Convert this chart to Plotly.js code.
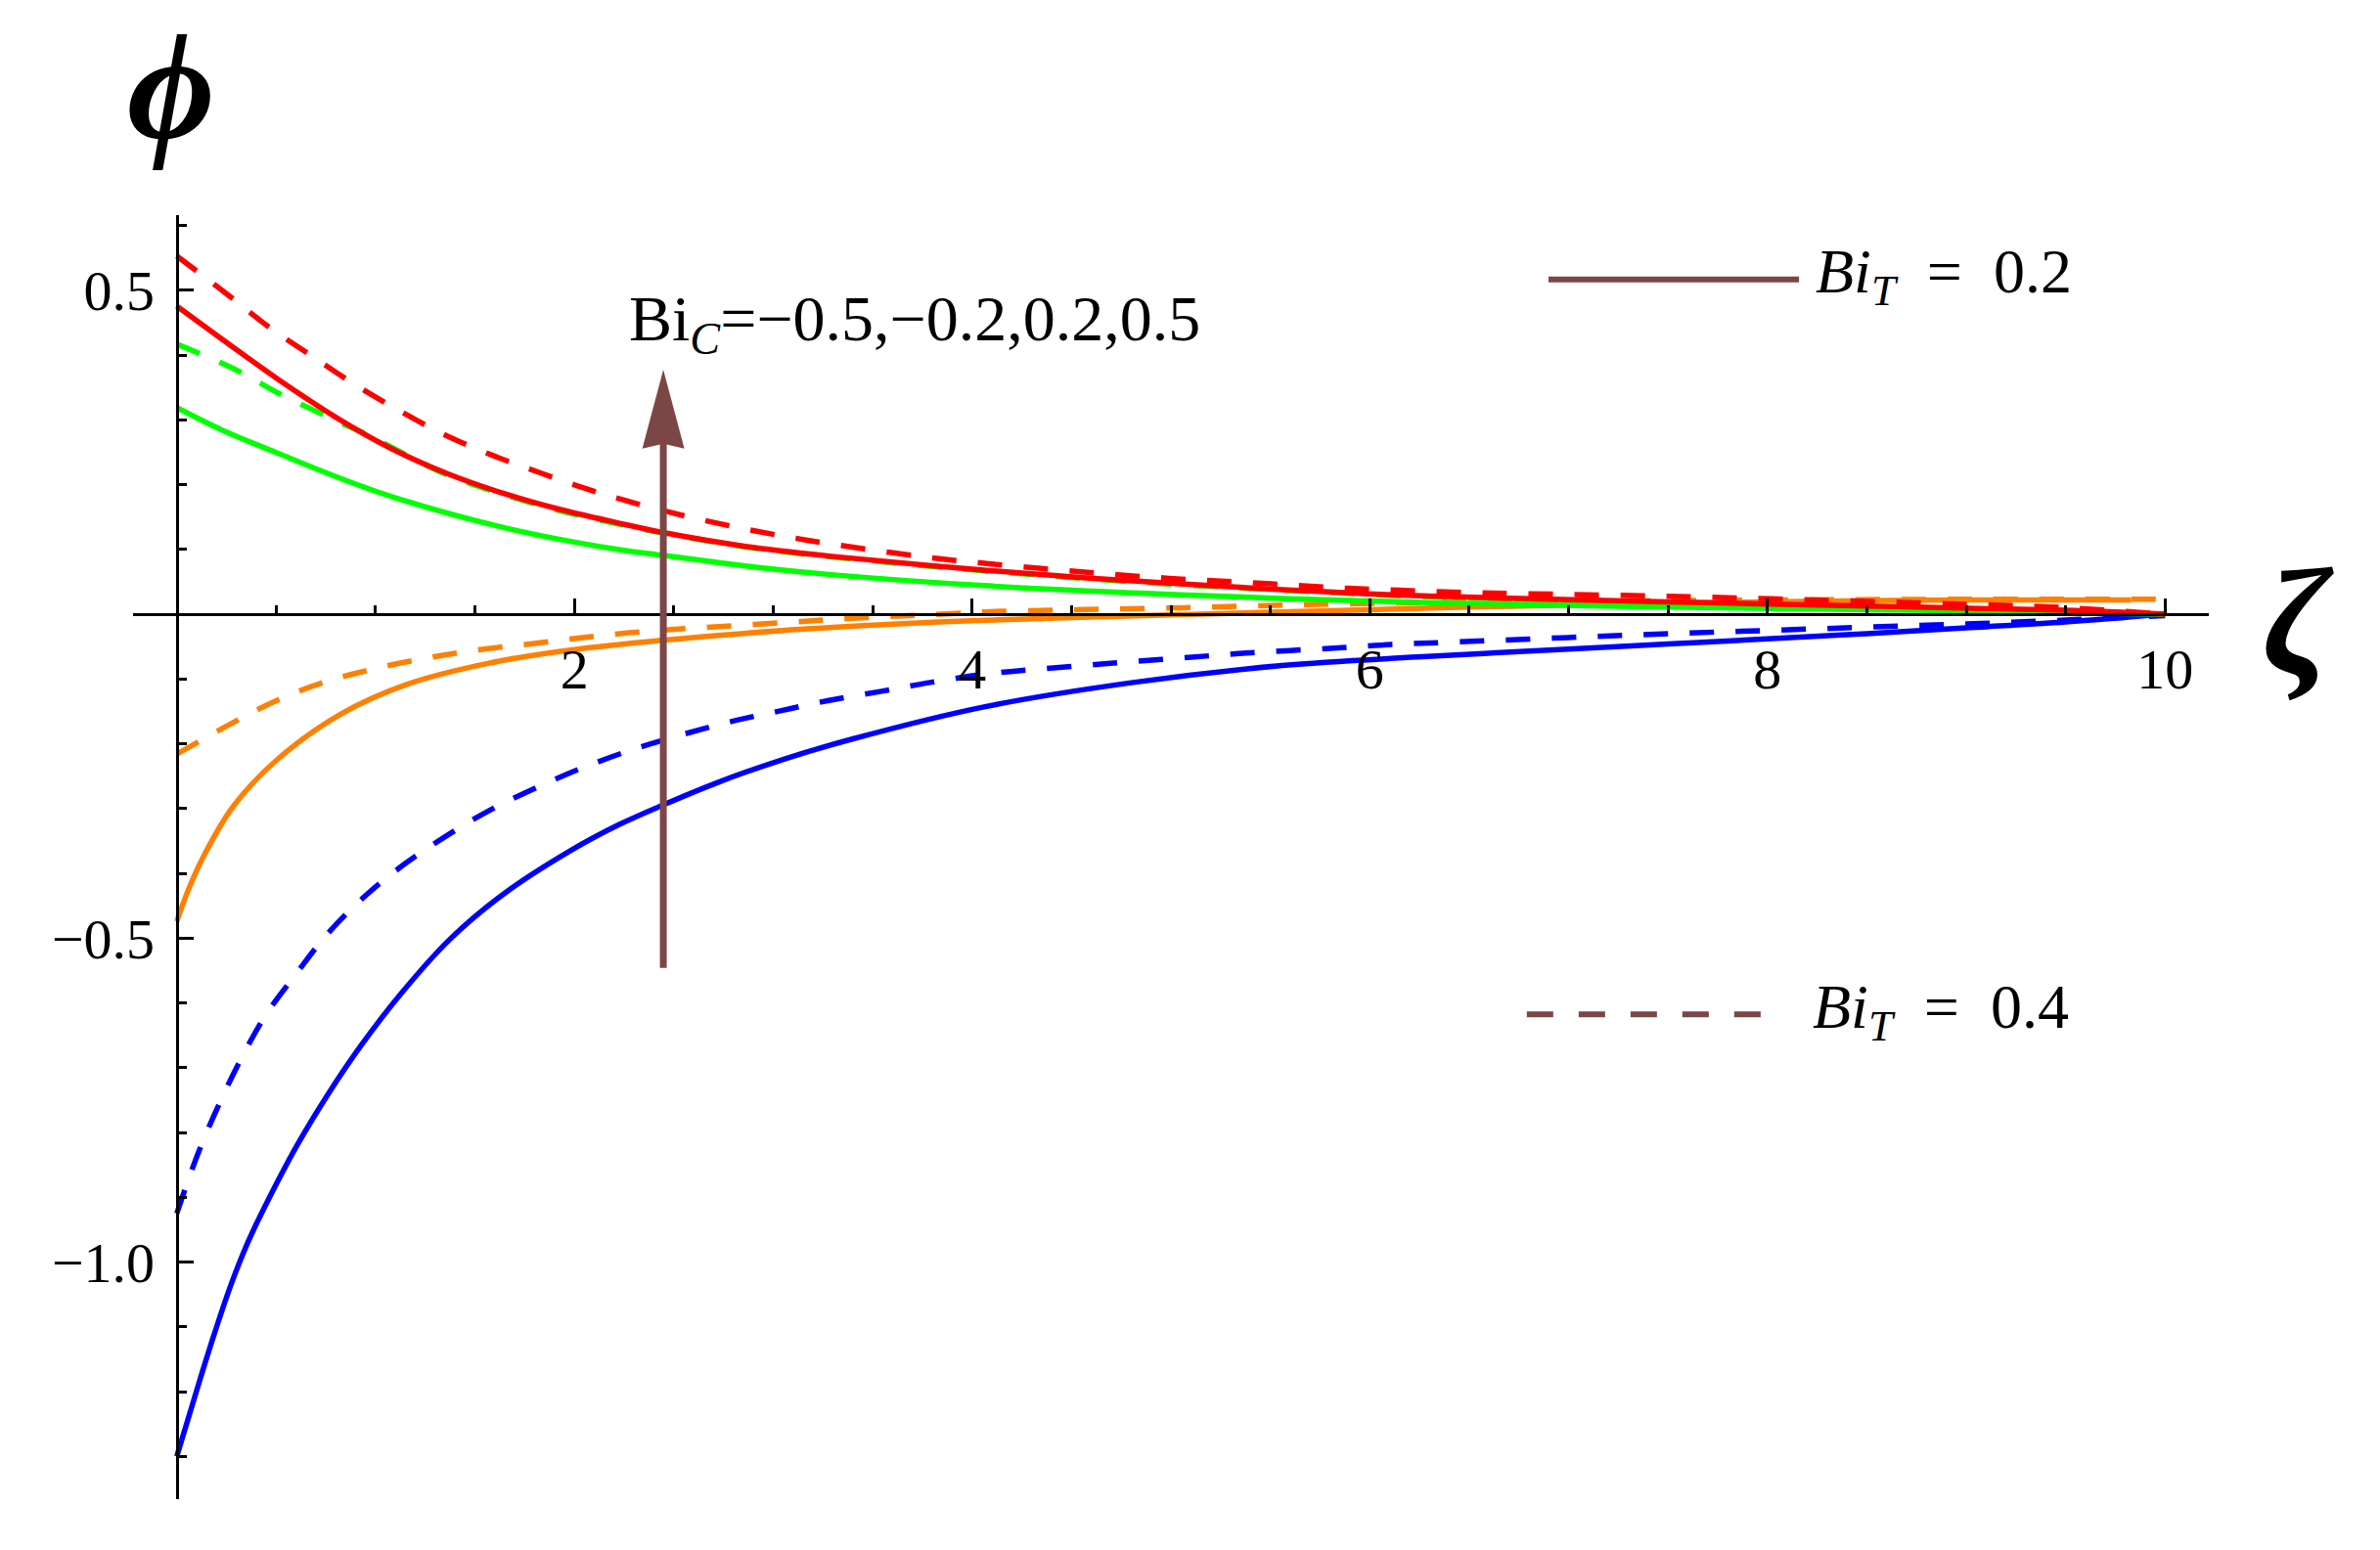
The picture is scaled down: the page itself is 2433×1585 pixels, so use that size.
<!DOCTYPE html>
<html>
<head>
<meta charset="utf-8">
<script src="https://cdn.plot.ly/plotly-3.0.1.min.js"></script>
<style>
  html, body { margin: 0; padding: 0; background: #fff; }
  #chart { width: 2433px; height: 1585px; }
</style>
</head>
<body>
<div id="chart"></div>
<script>
// phi(zeta) profiles for Bi_C = -0.5, -0.2, 0.2, 0.5 (solid: Bi_T = 0.2, dashed: Bi_T = 0.4)

const blueSolidX = [0, 0.111, 0.193, 0.275, 0.357, 0.439, 0.603, 0.767, 0.931, 1.127, 1.373, 1.652, 1.98, 2.226, 2.447, 2.718, 3.046, 3.406, 4.06, 4.81, 5.56, 6.24, 7, 7.5, 8, 8.5, 9, 9.5, 10];
const blueSolidY = [-1.30, -1.187, -1.107, -1.033, -0.970, -0.917, -0.821, -0.738, -0.664, -0.586, -0.502, -0.430, -0.365, -0.3245, -0.2943, -0.2600, -0.2245, -0.192, -0.1431, -0.1054, -0.0792, -0.066, -0.054, -0.046, -0.038, -0.030, -0.021, -0.012, 0];

const blueDashX = [0, 0.106, 0.209, 0.324, 0.447, 0.603, 0.759, 0.947, 1.144, 1.357, 1.578, 1.816, 2.046, 2.292, 2.538, 2.783, 3.03, 3.28, 3.545, 3.796, 4.06, 4.31, 4.57, 4.82, 5.09, 5.34, 5.6, 5.86, 6.11, 6.38, 7, 7.5, 8, 8.5, 9, 9.5, 10];
const blueDashY = [-0.925, -0.833, -0.759, -0.686, -0.619, -0.554, -0.493, -0.435, -0.386, -0.342, -0.302, -0.2667, -0.2365, -0.2089, -0.1862, -0.166, -0.1495, -0.133, -0.119, -0.105, -0.0928, -0.0853, -0.0788, -0.0727, -0.0667, -0.0607, -0.056, -0.0516, -0.0465, -0.0435, -0.036, -0.030, -0.025, -0.020, -0.015, -0.009, -0.002];

const orangeSolidX = [0, 0.06, 0.135, 0.286, 0.512, 0.832, 1.16, 1.57, 1.98, 2.44, 3.046, 3.5, 4, 4.5, 5, 5.5, 6, 6.5, 7, 7.5, 8, 8.5, 9, 9.5, 9.83];
const orangeSolidY = [-0.474, -0.424, -0.3735, -0.2957, -0.2226, -0.153, -0.108, -0.0755, -0.0554, -0.0403, -0.0252, -0.017, -0.010, -0.005, -0.001, 0.003, 0.007, 0.011, 0.014, 0.017, 0.019, 0.021, 0.022, 0.022, 0.022];

const orangeDashX = [0, 0.267, 0.503, 0.75, 0.996, 1.25, 1.505, 1.767, 2.02, 2.275, 2.54, 2.80, 3.07, 3.3, 3.55, 3.8, 4.1, 4.5, 5.06, 5.64, 6.19, 6.5, 7, 7.5, 8, 9, 10];
const orangeDashY = [-0.216, -0.170, -0.133, -0.104, -0.084, -0.068, -0.0554, -0.0463, -0.0368, -0.0287, -0.0227, -0.0176, -0.0126, -0.008, -0.004, -0.0005, 0.004, 0.0068, 0.010, 0.0146, 0.0176, 0.019, 0.020, 0.021, 0.022, 0.023, 0.023];

const greenSolidX = [0, 0.23, 0.512, 0.795, 1.077, 1.642, 2.207, 2.452, 2.9, 3.306, 4.06, 4.81, 5.56, 6.3, 7.5, 8.75, 10];
const greenSolidY = [0.319, 0.284, 0.248, 0.213, 0.182, 0.134, 0.1005, 0.0906, 0.073, 0.0607, 0.0441, 0.033, 0.0244, 0.018, 0.011, 0.006, 0];

const greenDashX = [0, 0.286, 0.512, 0.757, 0.964, 1.36, 1.642, 1.924, 2.207, 2.452, 2.9, 3.306, 4.06, 4.81, 5.56, 6.3, 7.5, 8.75, 10];
const greenDashY = [0.417, 0.379, 0.341, 0.305, 0.276, 0.215, 0.185, 0.160, 0.140, 0.125, 0.102, 0.088, 0.067, 0.050, 0.037, 0.027, 0.018, 0.010, 0];

const redSolidX = [0, 0.23, 0.512, 0.795, 1.077, 1.36, 1.642, 1.924, 2.207, 2.452, 2.9, 3.306, 4.06, 4.81, 5.56, 6.3, 7.5, 8.75, 9.5, 10];
const redSolidY = [0.4755, 0.424, 0.362, 0.305, 0.256, 0.217, 0.1866, 0.162, 0.1418, 0.1257, 0.103, 0.089, 0.068, 0.0513, 0.038, 0.028, 0.019, 0.011, 0.006, 0];

const redDashX = [0, 0.257, 0.465, 0.672, 0.888, 1.115, 1.34, 1.582, 1.821, 2.065, 2.31, 2.565, 2.819, 3.07, 3.32, 3.584, 3.834, 4.084, 4.348, 4.61, 4.86, 5.125, 5.376, 5.64, 5.89, 6.15, 6.42, 7.5, 8.75, 9.5, 10];
const redDashY = [0.553, 0.493, 0.443, 0.400, 0.356, 0.315, 0.278, 0.246, 0.219, 0.193, 0.171, 0.151, 0.134, 0.1195, 0.107, 0.0955, 0.0857, 0.078, 0.0706, 0.064, 0.058, 0.053, 0.049, 0.0445, 0.040, 0.037, 0.034, 0.0276, 0.0176, 0.010, 0];

const xTickVals = [2, 4, 6, 8, 10];
const xTickText = ["2", "4", "6", "8", "10"];
const xMinorVals = [0.5, 1, 1.5, 2.5, 3, 3.5, 4.5, 5, 5.5, 6.5, 7, 7.5, 8.5, 9, 9.5];
const yTickVals = [-1.0, -0.5, 0.5];
const yTickText = ["\u22121.0", "\u22120.5", "0.5"];
const yMinorVals = [-1.3, -1.2, -1.1, -0.9, -0.8, -0.7, -0.6, -0.4, -0.3, -0.2, -0.1, 0.1, 0.2, 0.3, 0.4, 0.6];

const bicLabel = "Bi<sub><i>C</i></sub>=\u22120.5,\u22120.2,0.2,0.5";
const legendLabels = ["<i>Bi</i><sub><i>T</i></sub>\u2002=\u20020.2", "<i>Bi</i><sub><i>T</i></sub>\u2002=\u20020.4"];

const SERIF = "Liberation Serif, Times New Roman, DejaVu Serif, serif";
const ARROW = "#7d4646";
const LW = 5.5;
const DASH = "25px,22px";

function curve(x, y, color, dashed) {
  return {
    x: x, y: y,
    mode: "lines",
    line: { color: color, width: LW, dash: dashed ? DASH : "solid", shape: "spline", smoothing: 1 },
    hoverinfo: "skip",
  };
}

const traces = [
  curve(blueSolidX, blueSolidY, "#0000ff", false),
  curve(blueDashX, blueDashY, "#0000ff", true),
  curve(orangeSolidX, orangeSolidY, "#ff8000", false),
  curve(orangeDashX, orangeDashY, "#ff8000", true),
  curve(greenDashX, greenDashY, "#00ff00", true),
  curve(greenSolidX, greenSolidY, "#00ff00", false),
  curve(redSolidX, redSolidY, "#ff0000", false),
  curve(redDashX, redDashY, "#ff0000", true),
];

const xRange = [-0.22, 10.22];
const yRange = [-1.366, 0.616];

const axisCommon = {
  showline: true,
  linewidth: 3,
  linecolor: "black",
  ticks: "inside",
  ticklen: 15,
  tickwidth: 3,
  tickcolor: "black",
  showgrid: false,
  zeroline: false,
  anchor: "free",
  tickfont: { family: SERIF, size: 58, color: "black" },
  fixedrange: true,
};

const layout = {
  width: 2433,
  height: 1585,
  margin: { l: 136, r: 175, t: 220, b: 52 },
  paper_bgcolor: "white",
  plot_bgcolor: "white",
  showlegend: false,
  font: { family: SERIF, size: 56, color: "black" },
  xaxis: Object.assign({}, axisCommon, {
    range: xRange,
    position: (0 - yRange[0]) / (yRange[1] - yRange[0]),
    tickmode: "array",
    tickvals: xTickVals,
    ticktext: xTickText,
    ticklabelstandoff: 4,
    minor: { tickmode: "array", tickvals: xMinorVals, ticks: "inside", ticklen: 8, tickwidth: 3, tickcolor: "black", showgrid: false },
  }),
  yaxis: Object.assign({}, axisCommon, {
    range: yRange,
    position: (0 - xRange[0]) / (xRange[1] - xRange[0]),
    tickmode: "array",
    tickvals: yTickVals,
    ticktext: yTickText,
    ticklabelstandoff: 10,
    minor: { tickmode: "array", tickvals: yMinorVals, ticks: "inside", ticklen: 8, tickwidth: 3, tickcolor: "black", showgrid: false },
  }),
  shapes: [
    // arrow shaft + head
    { type: "line", xref: "x", yref: "y", x0: 2.447, x1: 2.447, y0: -0.546, y1: 0.265,
      line: { color: ARROW, width: 7 } },
    { type: "path", xref: "x", yref: "y",
      path: "M 2.447 0.3774 L 2.5528 0.2555 L 2.447 0.263 L 2.3412 0.2555 Z",
      fillcolor: ARROW, line: { width: 0 } },
    // legend keys
    { type: "line", xref: "x", yref: "y", x0: 6.899, x1: 8.159, y0: 0.5167, y1: 0.5167,
      line: { color: ARROW, width: 6 } },
    { type: "line", xref: "x", yref: "y", x0: 6.79, x1: 7.976, y0: -0.6178, y1: -0.6178,
      line: { color: ARROW, width: 6, dash: "27px,26px" } },
  ],
  annotations: [
    { x: 0.238, y: 0.9155, xref: "paper", yref: "paper", xanchor: "left", yanchor: "middle", showarrow: false,
      text: bicLabel, font: { family: SERIF, size: 66, color: "black" } },
    { x: 0.8096, y: 0.9528, xref: "paper", yref: "paper", xanchor: "left", yanchor: "middle", showarrow: false,
      text: legendLabels[0], font: { family: SERIF, size: 64, color: "black" } },
    { x: 0.8082, y: 0.3800, xref: "paper", yref: "paper", xanchor: "left", yanchor: "middle", showarrow: false,
      text: legendLabels[1], font: { family: SERIF, size: 64, color: "black" } },
    { x: 0.0184, y: 1.100, xref: "paper", yref: "paper", xanchor: "center", yanchor: "middle", showarrow: false,
      text: "<b><i>\u03d5</i></b>", font: { family: SERIF, size: 155, color: "black" } },
    { x: 1.0433, y: 0.683, xref: "paper", yref: "paper", xanchor: "center", yanchor: "middle", showarrow: false,
      text: "<b><i>\u03b6</i></b>", font: { family: SERIF, size: 155, color: "black" } },
  ],
};

Plotly.newPlot("chart", traces, layout, { displayModeBar: false, staticPlot: true });
</script>
</body>
</html>
